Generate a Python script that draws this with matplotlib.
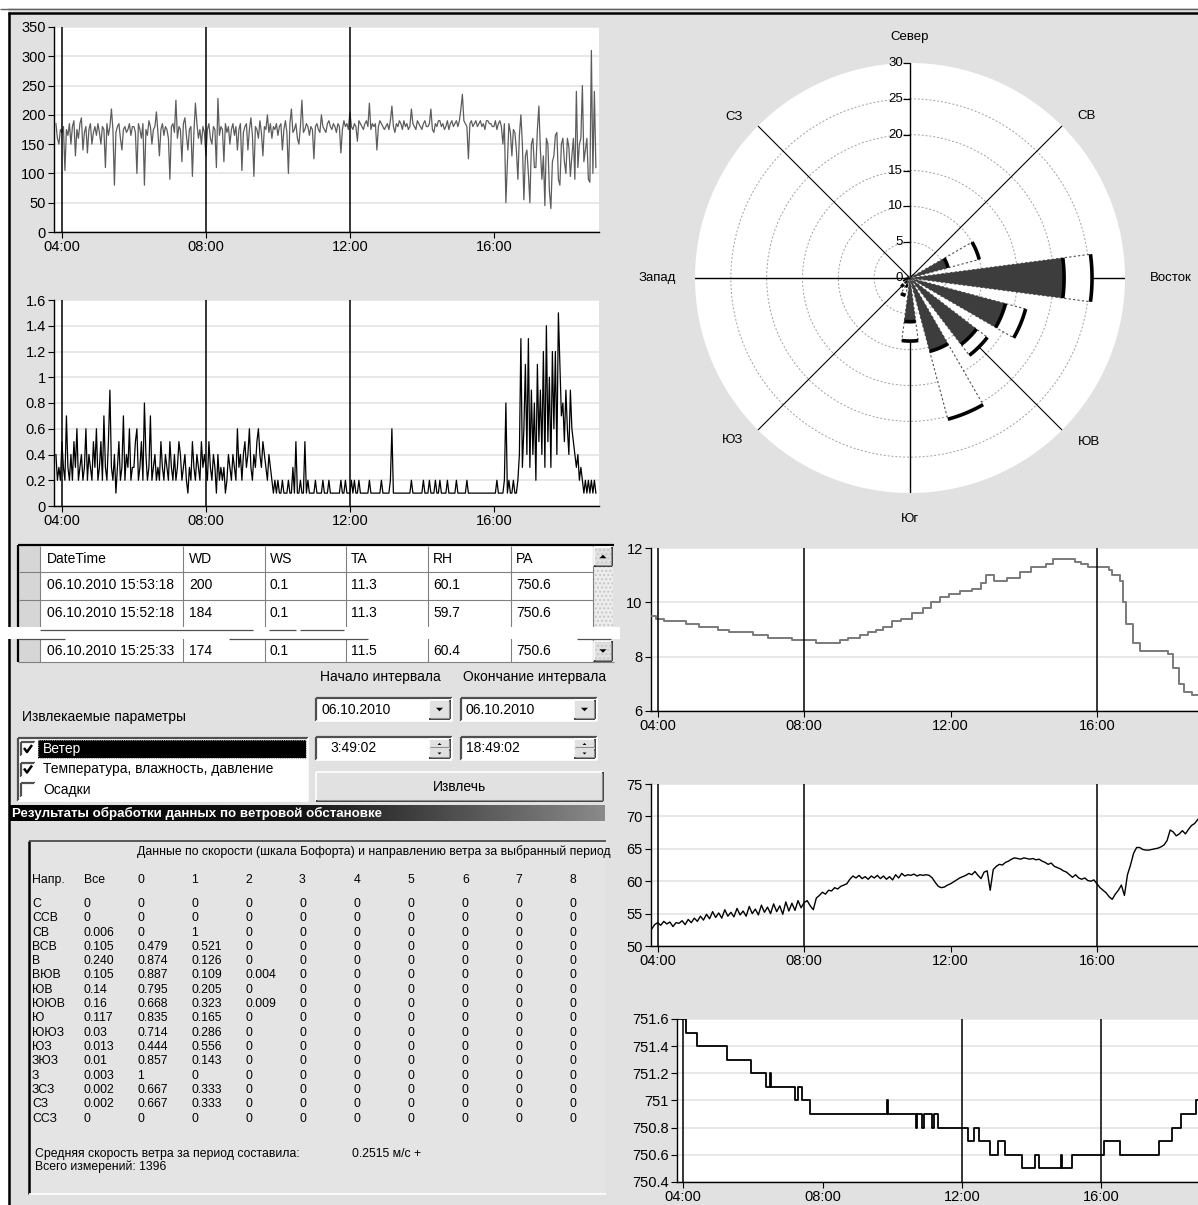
import numpy as np
import matplotlib
matplotlib.use('Agg')
import matplotlib.pyplot as plt
from matplotlib.patches import Rectangle, Polygon
from matplotlib.colors import LinearSegmentedColormap

W, H = 1198, 1205
BG = '#e1e1e1'
TICK_FONT = ['Liberation Sans Narrow', 'Liberation Sans', 'DejaVu Sans']
UI_FONT = ['Liberation Sans', 'DejaVu Sans']
plt.rcParams['font.family'] = UI_FONT

# ---------------- DATA ----------------
time_ticks = [4, 8, 12, 16]
time_labels = ['04:00', '08:00', '12:00', '16:00']

sample_start = 3 + 50 / 60      # first reading 03:50
fine_step = 2.5 / 60            # wind readings every 2.5 min
coarse_step = 5 / 60            # humidity readings every 5 min

wind_dir = [
    185, 160, 150, 175,
    170, 180, 105, 175, 165, 185, 150, 180, 190, 130, 175, 160, 185, 195, 140, 170, 180, 135, 175, 185, 150, 170, 180, 165,
    185, 170, 150, 180, 175, 110, 185, 165, 180, 210, 175, 80, 170, 180, 185, 160, 140, 175, 180, 170, 175, 185, 165, 180,
    180, 170, 100, 185, 175, 160, 185, 80, 175, 165, 190, 180, 150, 175, 180, 205, 170, 130, 175, 185, 165, 180, 175, 160,
    90, 180, 185, 170, 225, 160, 180, 175, 120, 185, 195, 165, 140, 175, 180, 95, 170, 220, 185, 160, 175, 150, 180, 170,
    130, 175, 185, 160, 150, 180, 175, 110, 228, 165, 180, 175, 120, 185, 170, 180, 150, 175, 185, 165, 180, 140, 175, 185,
    105, 170, 180, 185, 140, 175, 195, 165, 95, 180, 175, 160, 190, 170, 130, 180, 175, 200, 170, 185, 160, 180, 175, 185,
    165, 180, 185, 140, 175, 190, 170, 100, 185, 210, 170, 175, 185, 160, 150, 180, 225, 170, 175, 185, 180, 165, 180, 175,
    125, 180, 185, 175, 170, 200, 180, 175, 170, 185, 190, 180, 175, 185, 180, 170, 185, 180, 135, 175, 190, 180, 185, 175,
    205, 180, 175, 185, 180, 155, 190, 185, 180, 175, 185, 190, 180, 220, 175, 185, 180, 185, 140, 180, 190, 185, 180, 175,
    180, 185, 175, 190, 215, 180, 170, 185, 180, 190, 185, 175, 190, 180, 185, 175, 180, 210, 185, 180, 175, 190, 185, 180,
    175, 185, 190, 180, 180, 185, 210, 175, 170, 185, 180, 190, 190, 180, 185, 175, 180, 190, 175, 185, 190, 180, 185, 190,
    180, 190, 210, 235, 190, 185, 180, 125, 185, 190, 180, 185, 190, 180, 185, 190, 180, 185, 175, 190, 190, 185, 185, 180,
    180, 190, 175, 185, 190, 180, 150, 185, 50, 120, 185, 170, 130, 175, 170, 140, 90, 165, 200, 150, 55, 130, 140, 100,
    50, 150, 160, 110, 110, 175, 215, 140, 90, 130, 45, 160, 150, 70, 40, 120, 130, 165, 170, 90, 80, 150, 160, 120,
    100, 160, 145, 95, 130, 160, 90, 240, 110, 150, 160, 250, 120, 140, 160, 90, 85, 310, 100, 240, 110]

wind_speed = [
    0.4, 0.2, 0.3, 0.2,
    0.5, 0.3, 0.2, 0.7, 0.3, 0.2, 0.4, 0.2, 0.5, 0.3, 0.6, 0.2, 0.3, 0.4, 0.2, 0.3, 0.6, 0.2, 0.4, 0.3, 0.2, 0.5, 0.3, 0.6,
    0.2, 0.3, 0.5, 0.2, 0.7, 0.3, 0.2, 0.5, 0.9, 0.3, 0.2, 0.4, 0.1, 0.3, 0.5, 0.2, 0.3, 0.7, 0.2, 0.4, 0.3, 0.6, 0.2, 0.3,
    0.3, 0.5, 0.6, 0.2, 0.3, 0.5, 0.2, 0.8, 0.4, 0.2, 0.3, 0.7, 0.2, 0.3, 0.4, 0.2, 0.3, 0.2, 0.5, 0.3, 0.2, 0.4, 0.3, 0.2,
    0.5, 0.3, 0.2, 0.4, 0.2, 0.3, 0.5, 0.4, 0.2, 0.3, 0.4, 0.2, 0.1, 0.3, 0.2, 0.5, 0.3, 0.2, 0.4, 0.3, 0.2, 0.5, 0.3, 0.4,
    0.3, 0.2, 0.5, 0.3, 0.2, 0.4, 0.3, 0.1, 0.4, 0.2, 0.3, 0.2, 0.3, 0.1, 0.2, 0.4, 0.3, 0.2, 0.4, 0.3, 0.2, 0.6, 0.3, 0.4,
    0.2, 0.4, 0.5, 0.3, 0.4, 0.6, 0.3, 0.2, 0.4, 0.3, 0.5, 0.6, 0.4, 0.3, 0.5, 0.4, 0.3, 0.2, 0.4, 0.3, 0.2, 0.1, 0.2, 0.1,
    0.2, 0.1, 0.1, 0.2, 0.1, 0.1, 0.1, 0.2, 0.1, 0.1, 0.3, 0.1, 0.5, 0.1, 0.1, 0.2, 0.1, 0.1, 0.5, 0.1, 0.2, 0.1, 0.1, 0.1,
    0.1, 0.2, 0.1, 0.1, 0.1, 0.1, 0.2, 0.1, 0.1, 0.1, 0.2, 0.1, 0.1, 0.1, 0.1, 0.1, 0.1, 0.1, 0.2, 0.1, 0.1, 0.2, 0.1, 0.1,
    0.1, 0.2, 0.1, 0.2, 0.1, 0.1, 0.2, 0.1, 0.1, 0.1, 0.1, 0.1, 0.1, 0.2, 0.1, 0.1, 0.1, 0.1, 0.1, 0.1, 0.1, 0.2, 0.1, 0.1,
    0.1, 0.1, 0.1, 0.2, 0.6, 0.1, 0.1, 0.1, 0.1, 0.1, 0.1, 0.1, 0.1, 0.1, 0.1, 0.1, 0.1, 0.2, 0.1, 0.1, 0.1, 0.1, 0.1, 0.1,
    0.1, 0.2, 0.1, 0.1, 0.1, 0.2, 0.1, 0.1, 0.1, 0.2, 0.1, 0.1, 0.2, 0.1, 0.1, 0.1, 0.1, 0.2, 0.1, 0.1, 0.1, 0.1, 0.1, 0.2,
    0.1, 0.1, 0.1, 0.1, 0.1, 0.1, 0.2, 0.1, 0.1, 0.1, 0.1, 0.1, 0.1, 0.1, 0.1, 0.1, 0.1, 0.1, 0.1, 0.1, 0.1, 0.1, 0.1, 0.1,
    0.1, 0.1, 0.2, 0.1, 0.1, 0.1, 0.1, 0.2, 0.8, 0.1, 0.2, 0.1, 0.1, 0.2, 0.1, 0.1, 0.2, 0.4, 1.3, 0.3, 0.6, 1.1, 0.4, 1.3,
    0.3, 0.9, 0.4, 0.8, 0.2, 1.1, 0.5, 0.9, 0.4, 1.2, 0.3, 1.4, 0.5, 1.0, 0.3, 1.2, 0.6, 1.2, 0.4, 1.5, 1.1, 0.7, 0.8, 0.5,
    0.9, 0.6, 0.4, 0.9, 0.6, 0.5, 0.4, 0.3, 0.4, 0.2, 0.3, 0.2, 0.1, 0.2, 0.1, 0.2, 0.1, 0.2, 0.1, 0.2, 0.1]

humidity = [
    52.6, 53.3,
    53.6, 53.2, 53.8, 53.4, 53.7, 53.0, 53.6, 53.5, 53.9, 53.3, 54.1, 53.6,
    54.3, 53.8, 54.6, 54.0, 54.9, 54.2, 55.3, 54.4, 55.1, 54.3, 55.6, 54.6,
    55.2, 54.5, 55.8, 54.8, 55.4, 54.6, 56.1, 55.0, 55.7, 54.8, 56.3, 55.2,
    56.0, 55.0, 56.5, 55.3, 56.2, 54.9, 56.8, 55.4, 56.6, 55.5, 57.0, 55.9,
    56.7, 57.0, 56.2, 55.6, 57.4, 57.8, 58.3, 58.0, 58.6, 58.5, 59.0, 58.8,
    59.2, 59.4, 59.6, 60.3, 60.8, 60.5, 60.9, 60.4, 60.7, 60.3, 60.8, 60.5,
    60.9, 60.4, 60.8, 60.3, 60.7, 60.2, 61.0, 60.5, 61.2, 60.8, 61.0, 60.9,
    61.1, 60.8, 61.0, 60.9, 61.0, 60.9, 60.5, 59.8, 59.2, 59.0, 59.1, 59.4,
    59.6, 59.9, 60.2, 60.5, 60.7, 60.9, 61.2, 61.0, 61.5, 60.9, 60.4, 61.4,
    61.6, 58.6, 61.8, 62.3, 62.6, 62.5, 62.9, 63.1, 63.4, 63.6, 63.5, 63.4,
    63.6, 63.5, 63.4, 63.5, 63.3, 63.4, 63.1, 62.9, 62.6, 62.8, 62.3, 62.1,
    61.9, 61.6, 61.4, 61.0, 60.6, 61.0, 60.5, 60.3, 60.5, 60.1, 60.0, 60.2,
    59.6, 59.0, 58.6, 58.2, 57.6, 57.2, 58.0, 58.6, 59.4, 57.8, 61.0, 62.5,
    64.3, 65.2, 65.2, 64.9, 64.8, 64.8, 64.9, 65.0, 65.1, 65.3, 65.6, 66.3,
    67.9, 67.6, 67.0, 67.3, 67.8, 67.3, 68.0, 68.6, 68.9, 69.5, 70.0]

temp_times = [3.82, 3.95, 4.17, 4.78, 5.14, 5.64, 5.95, 6.60, 7.00, 7.67,
              8.32, 8.98, 9.19, 9.54, 9.74, 9.95, 10.15, 10.40, 10.65, 10.96,
              11.26, 11.46, 11.72, 11.97, 12.27, 12.58, 12.84, 12.98, 13.18, 13.54,
              13.89, 14.19, 14.60, 14.80, 15.41, 15.56, 15.76, 16.32, 16.42, 16.62,
              16.72, 16.78, 16.98, 17.18, 17.93, 18.09, 18.24, 18.39, 18.60, 18.80]
temp_values = [9.5, 9.4, 9.3, 9.2, 9.1, 9.0, 8.9, 8.8, 8.7, 8.6,
               8.5, 8.6, 8.7, 8.8, 8.9, 9.0, 9.1, 9.3, 9.4, 9.6,
               9.8, 10.0, 10.2, 10.3, 10.4, 10.5, 10.7, 11.0, 10.8, 10.9,
               11.1, 11.3, 11.4, 11.6, 11.5, 11.4, 11.3, 11.2, 11.0, 10.8,
               10.0, 9.2, 8.5, 8.2, 8.1, 7.6, 7.0, 6.7, 6.6, 6.2]

pres_times = [3.82, 4.09, 4.40, 5.26, 5.95, 6.37, 6.48, 6.53, 7.22, 7.30,
              7.40, 7.65, 9.85, 9.88, 10.68, 10.72, 10.85, 10.90, 11.15, 11.20,
              11.32, 12.17, 12.33, 12.49, 12.81, 13.03, 13.24, 13.72, 14.09, 14.20,
              14.83, 14.86, 15.16, 16.06, 16.54, 17.66, 18.03, 18.29, 18.72, 18.85]
pres_values = [751.6, 751.5, 751.4, 751.3, 751.2, 751.1, 751.2, 751.1, 751.0, 751.1,
               751.0, 750.9, 751.0, 750.9, 750.8, 750.9, 750.8, 750.9, 750.8, 750.9,
               750.8, 750.7, 750.8, 750.7, 750.6, 750.7, 750.6, 750.5, 750.6, 750.5,
               750.6, 750.5, 750.6, 750.7, 750.6, 750.7, 750.8, 750.9, 751.0, 751.0]

markers_wd = [4, 8, 12]
markers_ws = [4, 8, 12]
markers_ta = [4, 8, 16]
markers_rh = [4, 8, 16]
markers_pa = [4, 12, 16]

wd_ticks = [0, 50, 100, 150, 200, 250, 300, 350]
ws_ticks = [0, 0.2, 0.4, 0.6, 0.8, 1.0, 1.2, 1.4, 1.6]
ws_labels = ['0', '0.2', '0.4', '0.6', '0.8', '1', '1.2', '1.4', '1.6']
ta_ticks = [6, 8, 10, 12]
rh_ticks = [50, 55, 60, 65, 70, 75]
pa_ticks = [750.4, 750.6, 750.8, 751.0, 751.2, 751.4, 751.6]
pa_labels = ['750.4', '750.6', '750.8', '751', '751.2', '751.4', '751.6']

# wind rose (16 sectors, clockwise from north)
rose_dirs = ['С', 'ССВ', 'СВ', 'ВСВ', 'В', 'ВЮВ', 'ЮВ', 'ЮЮВ',
             'Ю', 'ЮЮЗ', 'ЮЗ', 'ЗЮЗ', 'З', 'ЗСЗ', 'СЗ', 'ССЗ']
rose_calm = [0, 0, 0.2, 5.5, 21.5, 13.8, 11.7, 10.6, 6.1, 1.2, 0.8, 0.4, 0.2, 0, 0, 0]
rose_total = [0, 0, 0.5, 10.0, 25.4, 16.7, 13.6, 20.4, 8.8, 2.5, 1.5, 0.8, 0.3, 0.2, 0.2, 0]
rose_rticks = [0, 5, 10, 15, 20, 25, 30]
rose_compass = ['Север', 'СВ', 'Восток', 'ЮВ', 'Юг', 'ЮЗ', 'Запад', 'СЗ']

# data grid
table_cols = ['DateTime', 'WD', 'WS', 'TA', 'RH', 'PA']
table_rows = [['06.10.2010 15:53:18', '200', '0.1', '11.3', '60.1', '750.6'],
              ['06.10.2010 15:52:18', '184', '0.1', '11.3', '59.7', '750.6'],
              ['06.10.2010 15:25:33', '174', '0.1', '11.5', '60.4', '750.6']]

# controls
start_date, end_date = '06.10.2010', '06.10.2010'
start_time, end_time = '3:49:02', '18:49:02'
params = ['Ветер', 'Температура, влажность, давление', 'Осадки']
params_checked = [True, True, False]

# Beaufort results
bf_title = 'Данные по скорости (шкала Бофорта) и направлению ветра за выбранный период'
bf_header = ['Напр.', 'Все', '0', '1', '2', '3', '4', '5', '6', '7', '8']
bf_all = ['0', '0', '0.006', '0.105', '0.240', '0.105', '0.14', '0.16',
          '0.117', '0.03', '0.013', '0.01', '0.003', '0.002', '0.002', '0']
bf_c0 = ['0', '0', '0', '0.479', '0.874', '0.887', '0.795', '0.668',
         '0.835', '0.714', '0.444', '0.857', '1', '0.667', '0.667', '0']
bf_c1 = ['0', '0', '1', '0.521', '0.126', '0.109', '0.205', '0.323',
         '0.165', '0.286', '0.556', '0.143', '0', '0.333', '0.333', '0']
bf_c2 = ['0', '0', '0', '0', '0', '0.004', '0', '0.009',
         '0', '0', '0', '0', '0', '0', '0', '0']
bf_c3to8 = ['0'] * 16
mean_speed_text = 'Средняя скорость ветра за период составила:'
mean_speed_value = '0.2515 м/с +'
total_count = 1396

# ---------------- FIGURE ----------------
fig = plt.figure(figsize=(W / 100, H / 100), dpi=100, facecolor=BG)


def px_axes(x0, y0, x1, y1, **kw):
    return fig.add_axes([x0 / W, 1 - y1 / H, (x1 - x0) / W, (y1 - y0) / H], **kw)


ov = px_axes(0, 0, W, H)
ov.set_xlim(0, W)
ov.set_ylim(H, 0)
ov.axis('off')
ov.set_zorder(0)


def rect(x0, y0, x1, y1, fc, ec='none', lw=0, z=1, **kw):
    ov.add_patch(Rectangle((x0, y0), x1 - x0, y1 - y0, facecolor=fc,
                           edgecolor=ec, linewidth=lw, zorder=z, **kw))


def hl(y, x0, x1, c='black', lw=1.0, z=2, **kw):
    ov.plot([x0, x1], [y, y], color=c, lw=lw, zorder=z, solid_capstyle='butt', **kw)


def vl(x, y0, y1, c='black', lw=1.0, z=2, **kw):
    ov.plot([x, x], [y0, y1], color=c, lw=lw, zorder=z, solid_capstyle='butt', **kw)


def txt(x, y, s, size=10, ha='left', color='black', z=3, **kw):
    ov.text(x, y, s, fontsize=size, ha=ha, va='center', color=color, zorder=z, **kw)


def sunken(x0, y0, x1, y1, fc='white'):
    rect(x0, y0, x1, y1, fc)
    hl(y0, x0, x1, '#505050', 1.6)
    vl(x0, y0, y1, '#505050', 1.6)
    hl(y1, x0, x1, 'white', 1.2)
    vl(x1, y0, y1, 'white', 1.2)


def raised(x0, y0, x1, y1, fc=BG):
    rect(x0, y0, x1, y1, fc)
    hl(y0, x0, x1, 'white', 1.2)
    vl(x0, y0, y1, 'white', 1.2)
    hl(y1, x0, x1, '#303030', 1.3)
    vl(x1, y0, y1, '#303030', 1.3)
    hl(y1 - 1.2, x0 + 1, x1 - 1, '#909090', 0.8)
    vl(x1 - 1.2, y0 + 1, y1 - 1, '#909090', 0.8)


def tri(cx, cy, s, down=True):
    if down:
        pts = [(cx - s, cy - s / 2), (cx + s, cy - s / 2), (cx, cy + s / 2)]
    else:
        pts = [(cx - s, cy + s / 2), (cx + s, cy + s / 2), (cx, cy - s / 2)]
    ov.add_patch(Polygon(pts, closed=True, facecolor='black', edgecolor='none', zorder=4))


# frame
rect(0, 0, W, 8, 'white', z=0.5)
rect(0, 0, 8, H, 'white', z=0.5)
hl(9, 0, W, '#606060', 1.0)
hl(13, 8, W, 'black', 1.8)
vl(9, 12, H, 'black', 1.8)

# ---------------- TIME SERIES ----------------
wd_times = sample_start + fine_step * np.arange(len(wind_dir))
ws_times = sample_start + fine_step * np.arange(len(wind_speed))
rh_times = sample_start + coarse_step * np.arange(len(humidity))


def series_chart(box, x, y, ylim, yticks, ylabels, xlim, markers, color, lw, steps=False):
    ax = px_axes(*box)
    ax.set_zorder(2)
    ax.set_facecolor('white')
    ax.plot(x, y, color=color, lw=lw, zorder=3,
            drawstyle='steps-post' if steps else 'default')
    for m in markers:
        ax.axvline(m, color='black', lw=1.1, zorder=4)
    ax.set_xlim(xlim)
    ax.set_ylim(ylim)
    ax.set_yticks(yticks)
    ax.set_yticklabels(ylabels)
    ax.set_xticks(time_ticks)
    ax.set_xticklabels(time_labels)
    ax.yaxis.grid(True, color='#e6e6e6', lw=1.3)
    ax.set_axisbelow(True)
    for s in ['top', 'right']:
        ax.spines[s].set_visible(False)
    for s in ['left', 'bottom']:
        ax.spines[s].set_color('black')
        ax.spines[s].set_linewidth(1.0)
    ax.tick_params(length=4, width=0.8, labelsize=10.5, pad=2, colors='black')
    for lab in ax.get_xticklabels() + ax.get_yticklabels():
        lab.set_family(TICK_FONT)
    return ax


series_chart((54, 27, 599, 232), wd_times, wind_dir, (0, 350), wd_ticks,
             [str(v) for v in wd_ticks], (3.78, 18.92), markers_wd, '#5c5c5c', 0.9)
series_chart((54, 300, 599, 506), ws_times, wind_speed, (0, 1.6), ws_ticks,
             ws_labels, (3.78, 18.92), markers_ws, 'black', 0.9)
series_chart((651, 548, 1198, 711), temp_times, temp_values, (6, 12), ta_ticks,
             [str(v) for v in ta_ticks], (3.817, 18.76), markers_ta, '#7a7a7a', 1.4, steps=True)
series_chart((651, 784, 1198, 946), rh_times, humidity, (50, 75), rh_ticks,
             [str(v) for v in rh_ticks], (3.817, 18.76), markers_rh, 'black', 1.0)
series_chart((677, 1019, 1198, 1182), pres_times, pres_values, (750.4, 751.6), pa_ticks,
             pa_labels, (3.82, 18.77), markers_pa, 'black', 1.3, steps=True)

# ---------------- WIND ROSE ----------------
rax = fig.add_axes([695 / W, 1 - 493 / H, 430 / W, 430 / H], projection='polar')
rax.set_zorder(2)
rax.set_theta_zero_location('N')
rax.set_theta_direction(-1)
rax.set_facecolor('white')
rax.spines['polar'].set_visible(False)
rax.set_xticks([])
rax.set_yticks(rose_rticks[1:-1])
rax.set_yticklabels([])
rax.yaxis.grid(True, color='#a0a0a0', ls=(0, (2, 2)), lw=0.7)
rax.xaxis.grid(False)
rax.set_ylim(0, 30)

theta = np.deg2rad(np.arange(len(rose_dirs)) * 22.5)
bw = np.deg2rad(15)
for ang in range(0, 360, 45):
    a = np.deg2rad(ang)
    rax.plot([a, a], [0, 30], color='black', lw=1.0 if ang % 90 == 0 else 0.8, zorder=2)
rax.bar(theta, rose_total, width=bw, bottom=0, facecolor='white', edgecolor='#505050',
        linestyle=(0, (2, 2)), linewidth=0.8, zorder=3)
rax.bar(theta, rose_calm, width=bw, bottom=0, color='#3d3d3d', linewidth=0, zorder=4)
for th, c, t in zip(theta, rose_calm, rose_total):
    if t > 0:
        arc = np.linspace(th - bw / 2, th + bw / 2, 12)
        rax.plot(arc, np.full_like(arc, t), color='black', lw=2.6, zorder=5,
                 solid_capstyle='butt')
        if c > 0:
            rax.plot(arc, np.full_like(arc, c), color='black', lw=2.6, zorder=5,
                     solid_capstyle='butt')
rax.plot(np.zeros(len(rose_rticks)), rose_rticks, ls='none', marker=0, ms=5,
         mew=0.9, color='black', zorder=6, clip_on=False)
for r in rose_rticks:
    rax.annotate(str(r), xy=(0, r), xytext=(-5, 0), textcoords='offset points',
                 ha='right', va='center', fontsize=9.5, family=TICK_FONT,
                 annotation_clip=False, zorder=6)
compass_pos = [(0, 33.6), (47.5, 33.5), (90, 36.4), (132.5, 33.8),
               (180, 33.6), (227.5, 33.5), (270, 35.3), (312.5, 33.3)]
for lab, (ang, rr) in zip(rose_compass, compass_pos):
    rax.text(np.deg2rad(ang), rr, lab, ha='center', va='center', fontsize=9.5,
             clip_on=False)

# ---------------- DATA GRID ----------------
col_x = [40, 183, 265, 346, 428, 511, 593]
rect(19, 546, 613, 662, 'white')
rect(19, 546, 40, 662, '#d6d6d6')
rect(593, 546, 613, 662, '#ededed', z=1)
ov.add_patch(Rectangle((593, 546), 20, 116, facecolor='none', edgecolor='#c8c8c8',
                       hatch='....', linewidth=0, zorder=1.5))
for x in col_x:
    vl(x, 546, 662, '#808080', 0.8)
for y in [572, 600]:
    hl(y, 19, 593, '#808080', 0.8)
vl(18, 545, 662, 'black', 1.6)
hl(545, 18, 614, 'black', 1.6)
raised(594, 547, 612, 566)
tri(603, 556.5, 3.5, down=False)
raised(594, 641, 612, 661)
tri(603, 651, 3.5, down=True)
col_text_x = [47, 189, 270, 351, 433, 516]
for cx, name in zip(col_text_x, table_cols):
    txt(cx, 559, name, 10)
row_y = [585, 613, 651]
for ry, row in zip(row_y, table_rows):
    for cx, val in zip(col_text_x, row):
        txt(cx, ry, val, 10)
# broken repaint strip between rows
rect(0, 627, 620, 639, 'white', z=2.5)
hl(630, 40, 253, '#505050', 0.9, z=2.6)
hl(630, 269, 296, '#505050', 0.9, z=2.6)
hl(630, 300, 344, '#505050', 0.9, z=2.6)
hl(639, 18, 65, '#505050', 0.9, z=2.6)
hl(639, 229, 368, '#505050', 0.9, z=2.6)
hl(639, 577, 611, '#505050', 0.9, z=2.6)
hl(662, 18, 614, '#808080', 0.8)

# ---------------- CONTROLS ----------------
txt(320, 677, 'Начало интервала', 10)
txt(463, 677, 'Окончание интервала', 10)
for x0, dval in [(316, start_date), (461, end_date)]:
    sunken(x0, 698, x0 + 136, 721)
    txt(x0 + 5, 709.5, dval, 10)
    raised(x0 + 113, 700, x0 + 134, 719)
    tri(x0 + 123.5, 709.5, 3.5, down=True)
for x0, tval, off in [(316, start_time, 14), (461, end_time, 5)]:
    sunken(x0, 737, x0 + 136, 760)
    txt(x0 + off, 748.5, tval, 10)
    raised(x0 + 113, 739, x0 + 134, 748.5)
    raised(x0 + 113, 748.5, x0 + 134, 758)
    tri(x0 + 123.5, 744, 2, down=False)
    tri(x0 + 123.5, 753.5, 2, down=True)
txt(22, 717, 'Извлекаемые параметры', 10)
sunken(18, 738, 308, 801)
rect(38, 740, 306, 758, 'black', z=2)
ov.add_patch(Rectangle((38, 740), 268, 18, facecolor='none', edgecolor='#9a9a9a',
                       linestyle=(0, (1, 1)), linewidth=0.8, zorder=2.2))
param_y = [749, 769.5, 790]
for py, name, chk in zip(param_y, params, params_checked):
    sunken(21, py - 7, 35, py + 7)
    if chk:
        ov.plot([24, 27, 32], [py - 1, py + 3, py - 4], color='black', lw=1.8, zorder=4,
                solid_capstyle='butt')
    txt(43, py, name, 10, color='white' if py == param_y[0] else 'black', z=4)
raised(316, 772, 603, 801)
txt(459.5, 787, 'Извлечь', 10, ha='center')

# title bar with gradient
grad = LinearSegmentedColormap.from_list('g', ['#000000', '#151515', '#8a8a8a'])
ov.imshow(np.linspace(0, 1, 256)[None, :], cmap=grad, aspect='auto',
          extent=[9, 605, 821, 805], zorder=1)
ov.set_xlim(0, W)
ov.set_ylim(H, 0)
txt(12, 813, 'Результаты обработки данных по ветровой обстановке', 9.6,
    color='white', fontweight='bold')

# ---------------- RESULTS TEXT ----------------
rect(29, 841, 606, 1194, '#e4e4e4')
vl(29, 841, 1194, 'black', 1.8)
hl(841, 29, 606, '#404040', 1.2)
hl(1194, 29, 606, 'white', 1.2)
bf_col_x = [32, 84, 137, 191, 245, 299, 354, 407, 462, 515, 570]
RS = 8.8
txt(137, 852, bf_title, RS)
for cx, h in zip(bf_col_x, bf_header):
    txt(cx, 880, h, RS)
for k, name in enumerate(rose_dirs):
    ry = 904 + 14.3 * k
    vals = [name, bf_all[k], bf_c0[k], bf_c1[k], bf_c2[k]] + [bf_c3to8[k]] * 6
    for cx, v in zip(bf_col_x, vals):
        txt(cx, ry, v, RS)
txt(35, 1154, mean_speed_text, RS)
txt(352, 1154, mean_speed_value, RS)
txt(35, 1167, 'Всего измерений: %d' % total_count, RS)

fig.savefig('out.png', dpi=100, facecolor=BG)
